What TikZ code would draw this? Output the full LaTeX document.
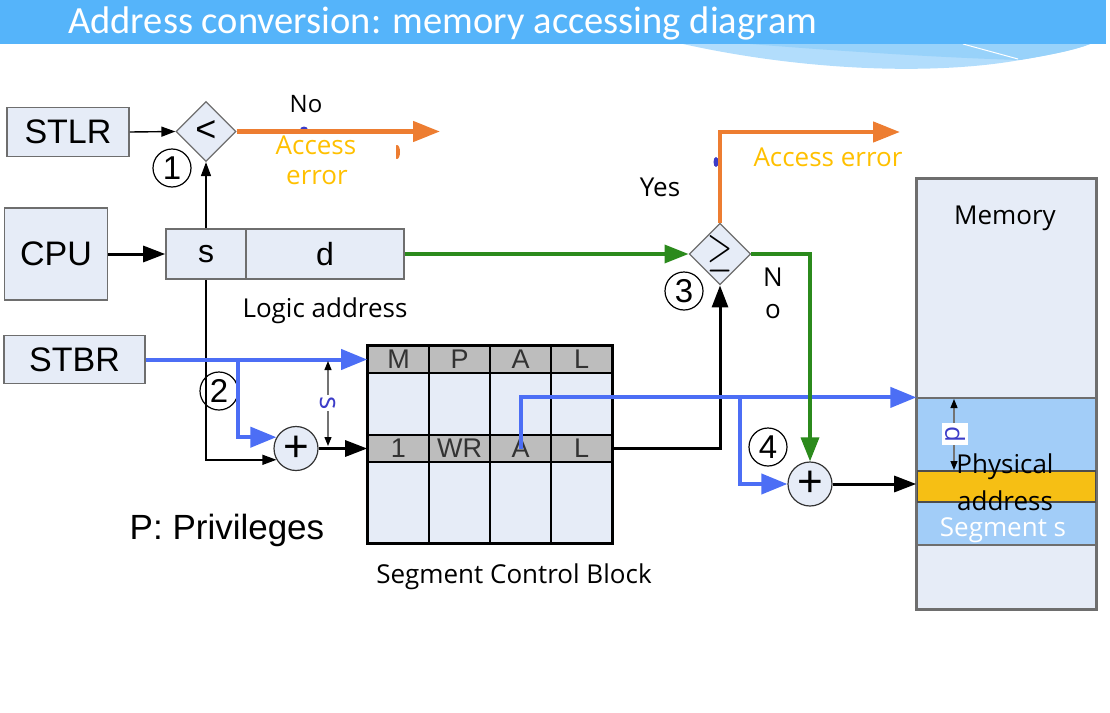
\documentclass[tikz,border=0pt]{standalone}
\usepackage{fontspec}
\usepackage{graphicx}
\setmainfont{Open Sans}
\newfontfamily\arialf{Liberation Sans}
\newfontfamily\titlef{Carlito}
\usetikzlibrary{shapes.geometric,arrows.meta,calc}

\newcommand\setfs[1]{\fontsize{#1pt}{#1pt}\selectfont}

\definecolor{barblue}{HTML}{55B4FA}
\definecolor{swooshA}{HTML}{B2DDFC}
\definecolor{swooshB}{HTML}{98D2FA}
\definecolor{boxfill}{HTML}{E6ECF7}
\definecolor{boxline}{HTML}{6E6E6E}
\definecolor{errorange}{HTML}{ED7D31}
\definecolor{errgold}{HTML}{FFC000}
\definecolor{okgreen}{HTML}{2B8A1C}
\definecolor{linkblue}{HTML}{4C6EF5}
\definecolor{cellgray}{HTML}{BDBDBD}
\definecolor{segblue}{HTML}{A2CDF8}
\definecolor{addrgold}{HTML}{F6BF14}
\definecolor{dimblue}{HTML}{3C3CC8}

\tikzset{
  box/.style={draw=boxline, fill=boxfill, line width=1.6pt, inner sep=0pt,
              font=\arialf\setfs{34}},
  cmp/.style={diamond, aspect=1, draw=boxline, fill=boxfill, line width=1.2pt,
              minimum width=60pt, minimum height=60pt, inner sep=0pt,
              font=\arialf\setfs{36}},
  adder/.style={circle, draw=black!80, fill=boxfill, line width=1.2pt,
                minimum size=44pt, inner sep=0pt, font=\arialf\setfs{44}},
  stepnum/.style={circle, draw, line width=1.2pt, minimum size=38pt,
                  inner sep=0pt, font=\arialf\setfs{33}},
  lbl/.style={inner sep=0pt, font=\setfs{26}},
  errlbl/.style={lbl, text=errgold},
  cellhead/.style={draw=black, line width=1.6pt, fill=cellgray, inner sep=0pt,
                   minimum width=61pt, minimum height=27pt,
                   font=\arialf\setfs{27}, text=black!80},
  thinarrow/.style={line width=1.4pt, -{Triangle[length=14pt,width=10pt]}},
  thickarrow/.style={line width=3pt, -{Triangle[length=22pt,width=16pt]}},
  bluearrow/.style={draw=linkblue, line width=4pt,
                    -{Triangle[length=26pt,width=20pt]}},
  greenarrow/.style={draw=okgreen, line width=3.5pt,
                     -{Triangle[length=24pt,width=18pt]}},
  orangearrow/.style={draw=errorange, line width=4.5pt,
                      -{Triangle[length=27pt,width=20pt]}},
  dimarrow/.style={draw=black!55, line width=1.2pt,
                   {Triangle[length=9pt,width=7pt,black]}-{Triangle[length=9pt,width=7pt,black]}},
}

\begin{document}
\begin{tikzpicture}[x=1pt,y=-1pt]
\useasboundingbox (0,0) rectangle (1110,712);

% heading band with its decorative swoosh
\fill[swooshA] (683,44) .. controls (800,70) and (930,76) .. (1020,60)
      .. controls (1050,55) and (1075,50) .. (1090,44) -- cycle;
\fill[swooshB] (750,44) .. controls (850,52) and (950,58) .. (1020,60)
      .. controls (1050,55) and (1075,50) .. (1090,44) -- cycle;
\draw[white, line width=1pt] (963,44) -- (1018,59);
\fill[barblue] (0,0) rectangle (1106,44);
\node[anchor=base west, inner sep=0pt, text=white, font=\titlef\setfs{38.5}]
  (title) at (68,33) {Address conversion: memory accessing diagram};

% registers and the logic address
\node[box, minimum width=122pt, minimum height=49pt] (stlr) at (68,132) {STLR};
\node[box, minimum width=103pt, minimum height=92pt] (cpu) at (56,254) {CPU};
\node[box, minimum width=141pt, minimum height=48pt] (stbr) at (74.5,359.5) {STBR};
\node[box, minimum width=80pt, minimum height=50pt, font=\arialf\setfs{32}]
  (sf) at (206,254) {s};
\node[box, minimum width=158pt, minimum height=50pt, font=\arialf\setfs{32}]
  (df) at (325,254) {d};
\node[lbl] (la) at (325,311) {Logic address};

% step 1: segment number against the table length
\node[cmp] (c1) at (206,131.5) {<};
\node[stepnum] (n1) at (172,168) {1};
\coordinate (err1) at (440,131.5);
\fill[dimblue] (304,130) ellipse (4pt and 3.5pt);
\fill[errorange] (397,152) ellipse (3pt and 7pt);
\fill[white] (388,140) rectangle (396,165);
\draw[thinarrow] (stlr.east) -- (c1.west);
\draw[thinarrow] (sf.north) -- (c1.south);
\draw[orangearrow] (c1.east) -- (err1);
\node[lbl, font=\setfs{24}] (no1) at (306,104) {No};
\node[errlbl] (acc1) at (316,145) {Access};
\node[errlbl] (err1lbl) at (317,178) {error};

\draw[thickarrow] (cpu.east) -- (sf.west);

% segment control block
\node[draw=black, line width=1.6pt, fill=boxfill, minimum width=244pt,
      minimum height=197pt, inner sep=0pt] (scb) at (490,444.5) {};
\node[cellhead] (hM) at (398.5,359.5) {M};
\node[cellhead] (hP) at (459.5,359.5) {P};
\node[cellhead] (hA) at (520.5,359.5) {A};
\node[cellhead] (hL) at (581.5,359.5) {L};
\node[cellhead] (r1) at (398.5,448.5) {1};
\node[cellhead] (rW) at (459.5,448.5) {WR};
\node[cellhead] (rA) at (520.5,448.5) {A};
\node[cellhead] (rL) at (581.5,448.5) {L};
\foreach \cx in {429,490,551} \draw[line width=1.6pt] (\cx,346) -- (\cx,543);
\draw[line width=1.6pt] (scb.north west) rectangle (scb.south east);
\node[lbl] (scblbl) at (514,577) {Segment Control Block};
\node[inner sep=0pt, font=\arialf\setfs{35}] (priv) at (227,530) {P: Privileges};

% step 2: table base plus segment number
\node[adder] (add2) at (296,448.5) {+};
\node[stepnum] (n2) at (219,391) {2};
\coordinate (b2) at (238,359.5);
\draw[thinarrow] (sf.south) |- (add2.210);
\draw[bluearrow] (stbr.east) -- (hM.west);
\draw[bluearrow] (b2) |- (add2.150);
\draw[thickarrow] (add2.east) -- (r1.west);
\coordinate (stop) at (328,361);
\coordinate (sbot) at (328,446);
\draw[dimarrow] (stop) -- (sbot);
\node[fill=white, inner sep=1pt, text=dimblue, font=\setfs{28}, rotate=-90]
  (slbl) at (328,403) {s};

% memory with the addressed segment
\node[box, minimum width=179pt, minimum height=430pt] (mem) at (1006.5,394) {};
\node[lbl] (memlbl) at (1005,218) {Memory};
\node[draw=boxline, line width=1.2pt, fill=segblue, minimum width=179pt,
      minimum height=147pt, inner sep=0pt] (segband) at (1006.5,471.5) {};
\node[draw=black!70, line width=1.2pt, fill=addrgold, minimum width=179pt,
      minimum height=31pt, inner sep=0pt] (phys) at (1006.5,486.5) {};
\draw[boxline, line width=1.6pt] (mem.north west) rectangle (mem.south east);
\coordinate (dtop) at (954,399);
\coordinate (dbot) at (954,470);
\draw[dimarrow] (dtop) -- (dbot);
\node[fill=white, inner sep=3pt, text=dimblue, font=\setfs{26}, rotate=-90]
  (dlbl) at (955,434) {d};
\node[lbl] (physl1) at (1005,467) {Physical};
\node[lbl] (physl2) at (1005,501) {address};
\node[lbl, text=white] (segs) at (1003,530) {Segment s};

% step 3: offset against the segment length
\node[cmp] (c3) at (720,254) {\scalebox{1.3}[1.9]{$\geq$}};
\node[stepnum] (n3) at (684,291) {3};
\coordinate (err2) at (900,132);
\fill[dimblue] (716,162) ellipse (2.5pt and 5pt);
\draw[thickarrow] (rL.east) -| (c3.south);
\draw[greenarrow] (df.east) -- (c3.west);
\draw[orangearrow] (c3.north) |- (err2);
\node[errlbl] (acc2) at (828,157) {Access error};
\node[lbl] (yes) at (660,187) {Yes};
\node[lbl] (noN) at (773,277) {N};
\node[lbl] (noO) at (773,312) {o};

% step 4: segment base plus offset
\node[adder] (add4) at (810,484) {+};
\node[stepnum] (n4) at (768,447) {4};
\coordinate (b4) at (740,398);
\draw[bluearrow] (rA.center) |- (segband.north west);
\draw[bluearrow] (b4) |- (add4.west);
\draw[greenarrow] (c3.east) -| (add4.north);
\draw[thickarrow] (add4.east) -- (mem.west |- add4.east);
\end{tikzpicture}
\end{document}
